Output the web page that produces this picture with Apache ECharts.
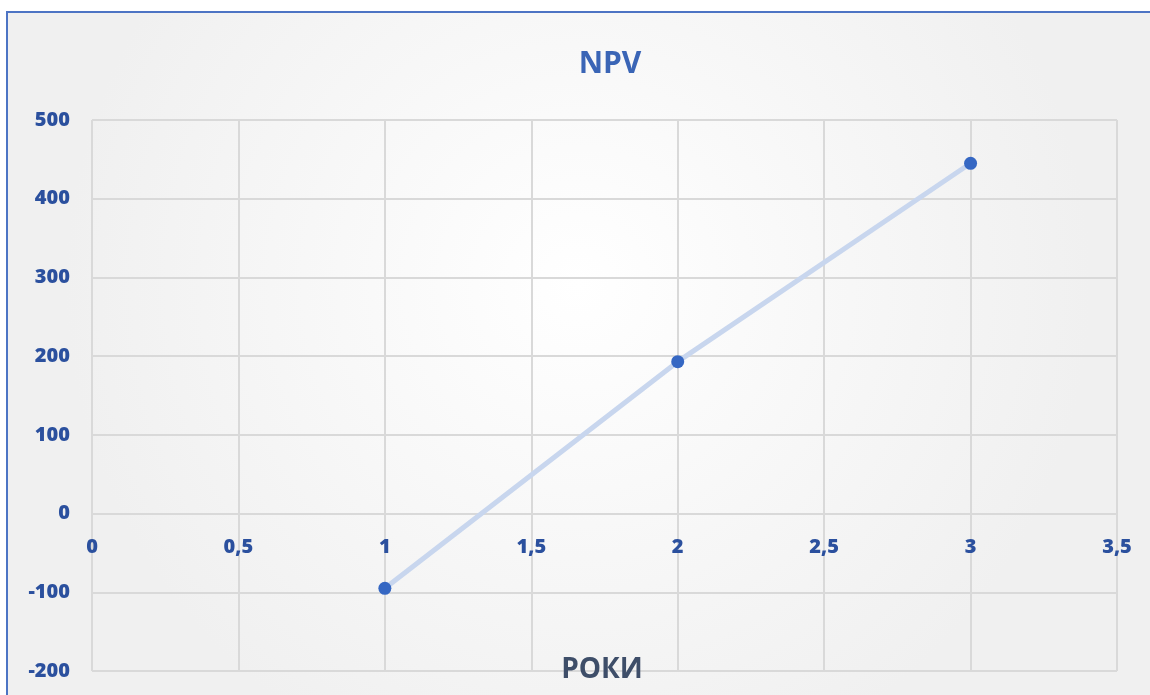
<!DOCTYPE html>
<html>
<head>
<meta charset="utf-8">
<style>
  html, body { margin: 0; padding: 0; background: #ffffff; }
  #chart { width: 1150px; height: 695px; }
</style>
<script src="https://cdn.jsdelivr.net/npm/echarts@6/dist/echarts.min.js"></script>
</head>
<body>
<div id="chart"></div>
<script>
// NPV by year
const years = [1, 2, 3];
const npv = [-95, 193, 445];
const xTicks = { min: 0, max: 3.5, step: 0.5 };
const yTicks = { min: -200, max: 500, step: 100 };

const labelBlue = '#2b509e';
const fontFamily = '"Open Sans", "Noto Sans", sans-serif';

// plot area box
const gridBox = { left: 92, right: 33, top: 120, bottom: 24 };
const plotHeight = 695 - gridBox.top - gridBox.bottom;
// the x axis sits on the y = 0 line
const zeroOffset = -plotHeight * (0 - yTicks.min) / (yTicks.max - yTicks.min);

const chart = echarts.init(document.getElementById('chart'));
chart.setOption({
  animation: false,
  graphic: [
    {
      type: 'rect', z: -10, silent: true,
      shape: { x: 6, y: 11, width: 1144, height: 684 },
      style: {
        fill: new echarts.graphic.RadialGradient(0.5, 0.4, 0.75, [
          { offset: 0, color: '#ffffff' },
          { offset: 1, color: '#f0f0f0' }
        ])
      }
    },
    { type: 'line', z: -5, silent: true,
      shape: { x1: 6, y1: 12, x2: 1150, y2: 12 },
      style: { stroke: '#4d74c4', lineWidth: 2 } },
    { type: 'line', z: -5, silent: true,
      shape: { x1: 7, y1: 11, x2: 7, y2: 695 },
      style: { stroke: '#4d74c4', lineWidth: 2 } }
  ],
  title: [
    {
      text: 'NPV', left: 605, top: 44, textAlign: 'center',
      textStyle: { color: '#3a65b6', fontSize: 30, fontWeight: 'bold', fontFamily: fontFamily }
    },
    {
      text: 'РОКИ', left: 597, top: 651, textAlign: 'center',
      textStyle: { color: '#3e4e69', fontSize: 28, fontWeight: 'bold', fontFamily: fontFamily }
    }
  ],
  grid: {
    left: gridBox.left, right: gridBox.right, top: gridBox.top, bottom: gridBox.bottom,
    containLabel: false, outerBoundsMode: 'none'
  },
  xAxis: {
    type: 'value',
    position: 'bottom',
    offset: zeroOffset,
    min: xTicks.min, max: xTicks.max, interval: xTicks.step,
    axisLine: { show: true, onZero: false, lineStyle: { color: '#d9d9d9', width: 2 } },
    axisTick: { show: false },
    splitLine: { show: true, lineStyle: { color: '#d9d9d9', width: 2 } },
    axisLabel: {
      margin: 24, color: labelBlue, fontSize: 20, fontWeight: 800, fontFamily: fontFamily,
      formatter: v => String(v).replace('.', ',')
    }
  },
  yAxis: {
    type: 'value',
    min: yTicks.min, max: yTicks.max, interval: yTicks.step,
    axisLine: { show: false },
    axisTick: { show: false },
    splitLine: { show: true, lineStyle: { color: '#d9d9d9', width: 2 } },
    axisLabel: {
      margin: 22, color: labelBlue, fontSize: 20, fontWeight: 800, fontFamily: fontFamily
    }
  },
  series: [{
    type: 'line',
    data: years.map((y, i) => [y, npv[i]]),
    symbol: 'circle',
    symbolSize: 13,
    lineStyle: { color: '#c8d6ee', width: 5 },
    itemStyle: { color: '#3567c3' }
  }]
});
</script>
</body>
</html>
